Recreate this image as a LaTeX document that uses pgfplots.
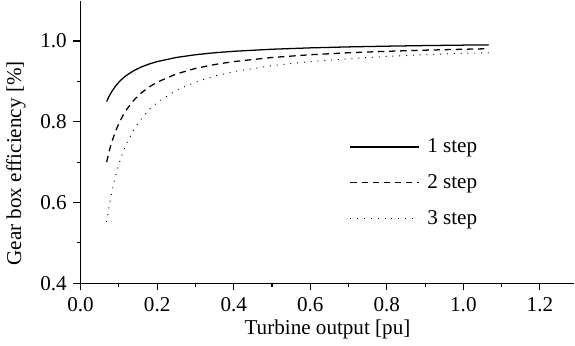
\documentclass[border=0pt,12pt]{standalone}
\usepackage{fontspec}
\setmainfont{Liberation Serif}
\usepackage{pgfplots}
\pgfplotsset{compat=1.18}
\begin{document}
\begin{tikzpicture}
\begin{axis}[
  scale only axis,
  width=311pt, height=178pt,
  xmin=0, xmax=1.29, ymin=0.4, ymax=1.1,
  axis x line=bottom, axis y line=left,
  axis line style={-, line width=0.8pt},
  xtick={0,0.2,...,1.2}, ytick={0.4,0.6,0.8,1.0},
  minor tick num=1,
  tick align=outside,
  major tick length=4.5pt, minor tick length=2.5pt,
  tick style={line width=0.7pt, black},
  xticklabel style={/pgf/number format/.cd, fixed, fixed zerofill, precision=1},
  yticklabel style={/pgf/number format/.cd, fixed, fixed zerofill, precision=1},
  /pgf/number format/assume math mode=true,
  xlabel={Turbine output [pu]},
  ylabel={Gear box efficiency [\%]},
  xlabel style={yshift=3pt},
  ylabel style={xshift=-13.5pt, yshift=1pt},
  legend style={draw=none, fill=none, at={(axis cs:0.69,0.775)}, anchor=north west, row sep=8pt, font=\fontsize{13.3}{15}\selectfont, nodes={inner xsep=5pt}},
  legend cell align=left,
  legend image code/.code={\draw[#1] (0pt,0pt) -- (43pt,0pt);},
  tick label style={font=\fontsize{13.3}{15}\selectfont},
  label style={font=\fontsize{13.3}{15}\selectfont},
]
\addplot[black, line width=0.8pt] coordinates {
(0.068,0.850) (0.075,0.864) (0.08,0.8725) (0.09,0.8867) (0.10,0.898) (0.11,0.9073) (0.12,0.915) (0.14,0.9271) (0.16,0.9362) (0.18,0.9433) (0.20,0.949) (0.25,0.9592) (0.30,0.966) (0.35,0.9709) (0.40,0.9745) (0.50,0.9796) (0.60,0.983) (0.70,0.9854) (0.80,0.9872) (0.90,0.9887) (1.00,0.9898) (1.066,0.9904)};
\addlegendentry{1 step}
\addplot[black, line width=0.8pt, dash pattern=on 4pt off 3pt] coordinates {
(0.068,0.700) (0.075,0.728) (0.08,0.745) (0.09,0.7733) (0.10,0.796) (0.11,0.8145) (0.12,0.83) (0.14,0.8543) (0.16,0.8725) (0.18,0.8867) (0.20,0.898) (0.25,0.9184) (0.30,0.932) (0.35,0.9417) (0.40,0.949) (0.50,0.9592) (0.60,0.966) (0.70,0.9709) (0.80,0.9745) (0.90,0.9773) (1.00,0.9796) (1.066,0.9809)};
\addlegendentry{2 step}
\addplot[black, line width=0.6pt, dash pattern=on 0.6pt off 3.7pt] coordinates {
(0.068,0.552) (0.075,0.593) (0.08,0.619) (0.09,0.661) (0.10,0.695) (0.11,0.723) (0.12,0.746) (0.14,0.782) (0.16,0.809) (0.18,0.831) (0.20,0.8475) (0.25,0.878) (0.30,0.898) (0.35,0.913) (0.40,0.924) (0.50,0.939) (0.60,0.949) (0.70,0.956) (0.80,0.962) (0.90,0.966) (1.00,0.9695) (1.066,0.971)};
\addlegendentry{3 step}
\end{axis}
\end{tikzpicture}
\end{document}
